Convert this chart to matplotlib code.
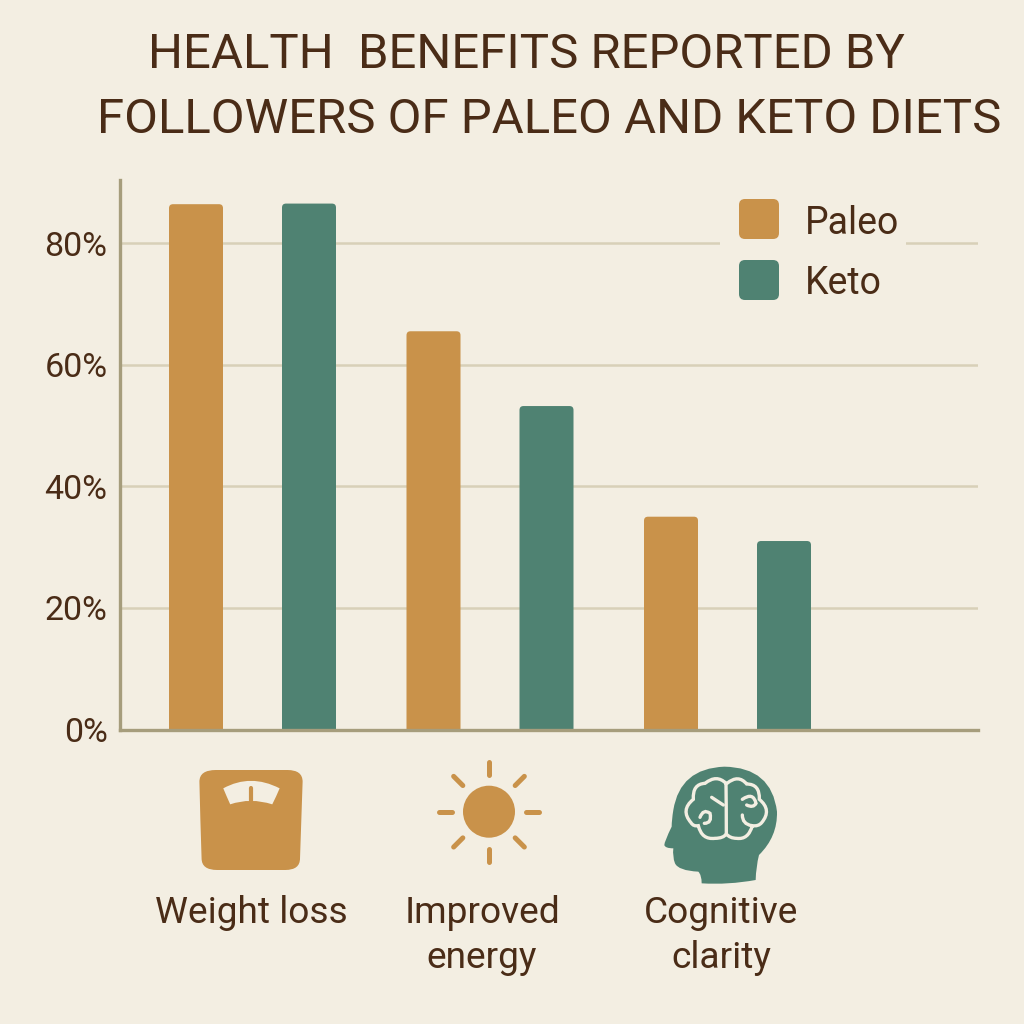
import numpy as np
import matplotlib
matplotlib.use('Agg')
import matplotlib.pyplot as plt
from matplotlib.patches import FancyBboxPatch, Rectangle, Ellipse, PathPatch
from matplotlib.path import Path

# Data
categories = ['Weight loss', 'Improved\nenergy', 'Cognitive\nclarity']
paleo = [86.4, 65.5, 35]
keto = [86.5, 53.2, 31]
yticks = [0, 20, 40, 60, 80]
ytick_labels = ['0%', '20%', '40%', '60%', '80%']

bg = '#f3eee2'
orange = '#c9924a'
green = '#4f8272'
text_col = '#4a2c17'
grid_col = '#d8d0b8'
axis_col = '#a69d7c'
font = 'Roboto'
plt.rcParams['font.family'] = [font, 'DejaVu Sans']

fig = plt.figure(figsize=(10.24, 10.24), dpi=100, facecolor=bg)

# Chart area, placed in pixels of the 1024 picture
L, R, T, B = 120, 978, 180, 729.5
ax = fig.add_axes([L / 1024, 1 - B / 1024, (R - L) / 1024, (B - T) / 1024])
ax.set_facecolor('none')
spacing = 237.5
x = np.arange(len(categories))
ax.set_xlim((L - 252.5) / spacing, (R - 252.5) / spacing)
ax.set_ylim(0, (B - T) / 6.08)

width = 54 / spacing
offset = 56.5 / spacing
aspect = spacing / 6.08


def rounded_bars(xs, vals, color):
    for xi, v in zip(xs, vals):
        # starts under the axis so only the top corners show rounded
        ax.add_patch(FancyBboxPatch((xi - width / 2, -3), width, v + 3,
                                    boxstyle=f'round,pad=0,rounding_size={4 / spacing}',
                                    mutation_aspect=aspect, fc=color, ec='none', zorder=3))


ax.set_yticks(yticks)
ax.set_yticklabels(ytick_labels, fontsize=24.5, color=text_col)
ax.set_xticks([])
ax.tick_params(axis='y', length=0, pad=9)
ax.grid(axis='y', color=grid_col, lw=1.8, zorder=1)
ax.set_axisbelow(True)
for s in ['top', 'right']:
    ax.spines[s].set_visible(False)
for s in ['left', 'bottom']:
    ax.spines[s].set_color(axis_col)
    ax.spines[s].set_linewidth(2.4)
    ax.spines[s].set_zorder(5)

rounded_bars(x - offset, paleo, orange)
rounded_bars(x + offset, keto, green)

# Overlay in picture pixels for title, legend and icons
ov = fig.add_axes([0, 0, 1, 1], facecolor='none')
ov.set_xlim(0, 1024)
ov.set_ylim(1024, 0)
ov.axis('off')

ov.text(148, 55, 'HEALTH  BENEFITS REPORTED BY', fontsize=35.4, color=text_col, va='center', ha='left')
ov.text(97, 120, 'FOLLOWERS OF PALEO AND KETO DIETS', fontsize=35.4, color=text_col, va='center', ha='left')

# Legend, gap in the 80% line behind it
ov.add_patch(Rectangle((720, 235), 186, 16, fc=bg, ec='none', zorder=1))
for y0, col, name in [(199, orange, 'Paleo'), (260, green, 'Keto')]:
    ov.add_patch(FancyBboxPatch((739, y0), 40, 40, boxstyle='round,pad=0,rounding_size=6',
                                fc=col, ec='none', zorder=2))
    ov.text(805, y0 + 24, name, fontsize=27, color=text_col, va='center', ha='left', zorder=2)


# first zoom crop -> picture pixels
def zp(pts):
    return [(a / 2.306 + 140, b / 3 + 740) for a, b in pts]


# head crop -> picture pixels
def hp(pts):
    return [(a / 3 + 655, b / 3 + 760) for a, b in pts]


def smooth(start, segs, conv=zp):
    # path of quadratic segments, each (control, end)
    verts = conv([start])
    codes = [Path.MOVETO]
    for c, e in segs:
        verts += conv([c, e])
        codes += [Path.CURVE3, Path.CURVE3]
    return Path(verts, codes)


# Scale icon
scale = smooth((137, 125), [((137, 90), (175, 90)), ((255, 90), (340, 90)), ((375, 90), (375, 125)),
                            ((372, 240), (369, 355)), ((369, 390), (335, 390)), ((255, 390), (178, 390)),
                            ((142, 390), (142, 355)), ((139, 240), (137, 125))])
ov.add_patch(PathPatch(scale, fc=orange, ec='none'))
window = smooth((192, 145), [((255, 100), (322, 145)), ((314, 170), (305, 193)),
                             ((255, 172), (208, 193)), ((200, 170), (192, 145))])
ov.add_patch(PathPatch(window, fc=bg, ec='none'))
ov.plot(*zip(*zp([(257, 144), (257, 183)])), color=orange, lw=3, solid_capstyle='round')

# Sun icon
cx, cy = 489, 811.7
ov.add_patch(Ellipse((cx, cy), 52, 52, fc=orange, ec='none'))
for ang in np.arange(0, 360, 45):
    dx, dy = np.cos(np.radians(ang)), np.sin(np.radians(ang))
    ov.plot([cx + 37 * dx, cx + 50 * dx], [cy + 37 * dy, cy + 50 * dy], color=orange, lw=3.6,
            solid_capstyle='round')

# Head icon
head = smooth((140, 370), [((220, 375), (302, 360)), ((303, 320), (312, 285)),
                           ((368, 230), (366, 155)), ((350, 22), (208, 20)),
                           ((75, 25), (55, 150)), ((50, 180), (50, 200)),
                           ((28, 245), (28, 255)), ((30, 265), (55, 265)),
                           ((52, 290), (60, 310)), ((70, 332), (130, 335)),
                           ((140, 345), (140, 370))], hp)
ov.add_patch(PathPatch(head, fc=green, ec='none'))
brain_lines = [
    ((213, 70), [((185, 42), (150, 70)), ((112, 72), (115, 118)), ((75, 150), (108, 188)),
                 ((115, 200), (130, 197)), ((140, 240), (180, 235)), ((205, 235), (214, 222)),
                 ((214, 145), (213, 70))]),
    ((216, 70), [((250, 42), (275, 72)), ((315, 72), (313, 118)), ((352, 150), (320, 188)),
                 ((310, 200), (292, 197)), ((280, 240), (245, 235)), ((225, 235), (214, 222))]),
    ((170, 112), [((188, 124), (205, 135))]),
    ((135, 172), [((145, 145), (165, 160)), ((172, 190), (148, 190))]),
    ((262, 118), [((295, 95), (303, 130)), ((295, 145), (275, 135))]),
    ((262, 165), [((262, 192), (290, 197))]),
]
for start, segs in brain_lines:
    ov.add_patch(PathPatch(smooth(start, segs, hp), fc='none', ec=bg, lw=2.4, capstyle='round'))

# Category labels under the icons
for cat, xc in zip(categories, [251, 482, 721]):
    ov.text(xc, 895, cat, fontsize=26.7, color=text_col, ha='center', va='top', linespacing=1.33)

fig.savefig('out.png', dpi=100, facecolor=bg)
